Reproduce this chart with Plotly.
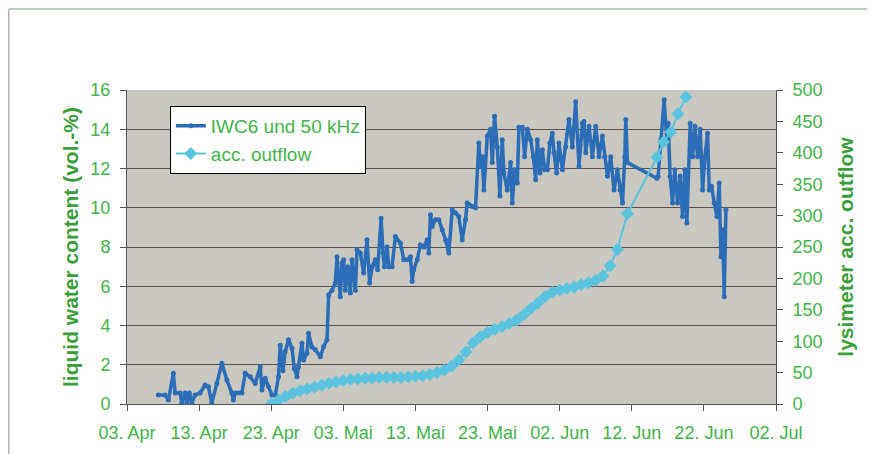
import pandas as pd
import plotly.graph_objects as go

# day offsets counted from 03. Apr
start = pd.Timestamp("2004-04-03")

lwc_days = [4.35, 5.28, 5.74, 6.43, 6.67, 7.36, 7.6, 8.06, 8.29, 8.65, 8.99, 9.44, 10.14, 10.83, 11.29,
            11.76, 12.46, 13.15, 13.85, 14.54, 14.76, 15.0, 15.46, 15.93, 16.39, 17.08, 17.78, 18.47,
            18.71, 19.17, 19.63, 20.1, 20.56, 21.01, 21.25, 21.63, 21.94, 22.4, 22.88, 23.2, 23.57,
            23.79, 24.26, 24.49, 24.96, 25.18, 25.65, 26.11, 26.81, 27.26, 27.74, 27.96, 28.43, 28.89,
            29.12, 29.35, 29.58, 29.82, 30.04, 30.28, 30.6, 30.97, 31.21, 31.67, 31.9, 32.36, 32.82,
            33.29, 33.65, 33.99, 34.44, 34.76, 35.24, 35.51, 35.69, 36.07, 36.29, 36.76, 37.22, 37.92,
            38.38, 38.85, 39.31, 39.54, 39.76, 40.24, 40.69, 41.15, 41.63, 41.85, 42.08, 42.32, 42.78,
            43.24, 43.71, 44.17, 44.63, 45.1, 45.56, 46.01, 46.49, 46.94, 47.18, 47.88, 48.33, 48.79,
            49.03, 49.26, 49.49, 49.96, 50.42, 50.65, 50.97, 51.35, 51.71, 52.04, 52.26, 52.74, 53.19,
            53.43, 53.75, 54.13, 54.35, 54.82, 55.14, 55.51, 55.97, 56.35, 56.67, 56.9, 57.26, 57.6,
            57.92, 58.29, 58.65, 58.99, 59.21, 59.58, 59.9, 60.38, 60.83, 61.29, 61.76, 62.22, 62.68,
            63.15, 63.38, 63.61, 64.07, 64.54, 65.0, 65.46, 65.93, 66.25, 66.63, 67.08, 67.54, 68.01,
            68.38, 68.71, 69.03, 69.17, 69.4, 73.47, 73.65, 74.03, 74.49, 74.86, 75.04, 75.32, 75.65,
            75.97, 76.35, 76.71, 77.04, 77.36, 77.64, 78.1, 78.43, 78.75, 79.13, 79.49, 79.82, 80.14,
            80.51, 80.74, 81.07, 81.43, 81.81, 82.13, 82.36, 82.6, 82.82, 83.06]
lwc_vals = [0.46, 0.46, 0.2, 1.57, 0.56, 0.56, 0.05, 0.56, 0.05, 0.56, 0.05, 0.46, 0.56, 0.97, 0.88,
            0.05, 1.05, 2.08, 1.22, 0.56, 0.2, 0.56, 0.56, 0.56, 1.57, 1.39, 1.05, 1.9,
            0.71, 1.31, 0.88, 0.46, 0.46, 1.39, 3.0, 1.7, 2.67, 3.27, 2.84, 1.8, 1.39,
            1.9, 3.1, 2.24, 2.58, 3.6, 2.9, 2.76, 2.41, 2.92, 3.27, 5.56, 5.8, 6.16,
            7.5, 6.5, 5.47, 7.18, 7.35, 5.8, 7.0, 5.65, 7.35, 5.8, 7.86, 7.69, 6.67,
            8.37, 6.16, 7.0, 7.35, 6.84, 9.47, 7.69, 7.0, 8.0, 7.0, 7.0, 8.54, 8.2,
            7.35, 7.35, 7.5, 6.24, 6.84, 7.35, 8.1, 8.0, 8.37, 7.69, 9.64, 9.05, 9.39,
            9.39, 8.88, 8.37, 7.69, 9.9, 9.73, 9.56, 8.37, 9.39, 10.24, 10.07, 10.0, 13.3,
            12.1, 12.6, 10.9, 13.65, 14.0, 12.3, 14.66, 13.1, 10.6, 13.47, 11.8, 10.9, 12.3,
            10.24, 11.94, 11.26, 14.1, 14.1, 12.6, 14.0, 13.47, 12.6, 11.43, 13.47, 11.77, 12.96,
            11.94, 11.94, 13.3, 13.8, 12.8, 11.77, 13.3, 11.94, 13.1, 14.5, 13.1, 15.4, 12.1,
            14.3, 14.4, 12.8, 14.15, 12.6, 14.15, 12.6, 13.65, 12.6, 11.6, 12.6, 10.9, 11.94,
            10.9, 10.24, 12.6, 14.5, 12.3, 11.5, 11.6, 13.47, 15.5, 13.5, 14.3, 11.6, 10.24,
            11.94, 10.24, 11.6, 9.56, 11.94, 9.22, 14.3, 12.6, 14.15, 12.6, 14.0, 10.9, 12.6,
            13.8, 10.9, 11.1, 10.24, 9.56, 11.26, 7.5, 8.88, 5.47, 9.9]

outflow_days = [20, 21, 22, 23, 24, 25, 26, 27, 28, 29, 30, 31, 32, 33, 34, 35, 36, 37, 38, 39, 40,
                41, 42, 43, 44, 45, 46, 47, 48, 49, 50, 51, 52, 53, 54, 55, 56, 57, 58, 59, 60, 61,
                62, 63, 64, 65, 66, 67, 68, 69.4, 73.5, 74.4, 75.4, 76.4, 77.5]
outflow_vals = [0, 6, 12, 17, 21, 24, 27, 30, 33, 35, 37, 39, 40, 41, 41, 42, 42, 42, 42, 43, 44,
                45, 47, 50, 54, 60, 70, 83, 97, 107, 114, 119, 123, 128, 133, 142, 152, 161, 171, 178, 181, 184,
                186, 190, 193, 197, 204, 220, 246, 303, 393, 417, 433, 462, 489]

tick_dates = ["2004-04-03", "2004-04-13", "2004-04-23", "2004-05-03", "2004-05-13", "2004-05-23",
              "2004-06-02", "2004-06-12", "2004-06-22", "2004-07-02"]
tick_labels = ["03. Apr", "13. Apr", "23. Apr", "03. Mai", "13. Mai", "23. Mai",
               "02. Jun", "12. Jun", "22. Jun", "02. Jul"]

lwc_x = start + pd.to_timedelta(lwc_days, unit="D")
outflow_x = start + pd.to_timedelta(outflow_days, unit="D")

green = "#43b449"
title_green = "#3a9e3a"
axis_col = "#555555"

fig = go.Figure()
fig.add_trace(go.Scatter(x=lwc_x, y=lwc_vals, name="IWC6 und 50 kHz", mode="lines+markers",
                         line=dict(color="#2b6db6", width=3.5), marker=dict(size=5, color="#2b6db6")))
fig.add_trace(go.Scatter(x=outflow_x, y=outflow_vals, name="acc. outflow", yaxis="y2", mode="lines+markers",
                         line=dict(color="#5cc3df", width=2),
                         marker=dict(symbol="diamond", size=10, color="#5cc3df")))

fig.update_layout(
    width=875, height=454, margin=dict(l=119, r=107, t=82, b=58),
    paper_bgcolor="white", plot_bgcolor="#c9c8c0",
    font=dict(family="Liberation Sans, Arial", color=green, size=18),
    showlegend=True,
    legend=dict(x=0.066, y=0.949, xanchor="left", yanchor="top", bgcolor="white",
                bordercolor="black", borderwidth=1, font=dict(size=19, color=green),
                tracegroupgap=0),
    xaxis=dict(type="date", range=[tick_dates[0], tick_dates[-1]], tickvals=tick_dates, ticktext=tick_labels,
               showgrid=False, showline=True, linecolor=axis_col, linewidth=1, ticks="outside",
               ticklen=6, tickcolor=axis_col, tickfont=dict(size=18, color=green), zeroline=False,
               ticklabelstandoff=6),
    yaxis=dict(range=[0, 16], dtick=2, showgrid=True, gridcolor="#5e4f52", gridwidth=1,
               showline=True, linecolor=axis_col, ticks="outside", ticklen=6, tickcolor=axis_col,
               tickfont=dict(size=18, color=green), zeroline=False, ticklabelstandoff=6,
               title=dict(text="<b>liquid water content (vol.-%)</b>", font=dict(size=21, color=title_green), standoff=6)),
    yaxis2=dict(range=[0, 500], dtick=50, overlaying="y", side="right", showgrid=False,
                showline=True, linecolor=axis_col, ticks="outside", ticklen=6, tickcolor=axis_col,
                tickfont=dict(size=18, color=green), zeroline=False, ticklabelstandoff=6,
                title=dict(text="<b>lysimeter acc. outflow</b>", font=dict(size=21, color=title_green), standoff=16)),
)

# page frame like the scanned figure
fig.add_shape(type="line", xref="paper", yref="paper", x0=-0.182, x1=1.145, y0=1.258, y1=1.258,
              line=dict(color="#6aa87a", width=1))
fig.add_shape(type="line", xref="paper", yref="paper", x0=-0.182, x1=-0.182, y0=1.258, y1=-0.16,
              line=dict(color="#8a8a8a", width=1))

fig.write_html("out.html")
